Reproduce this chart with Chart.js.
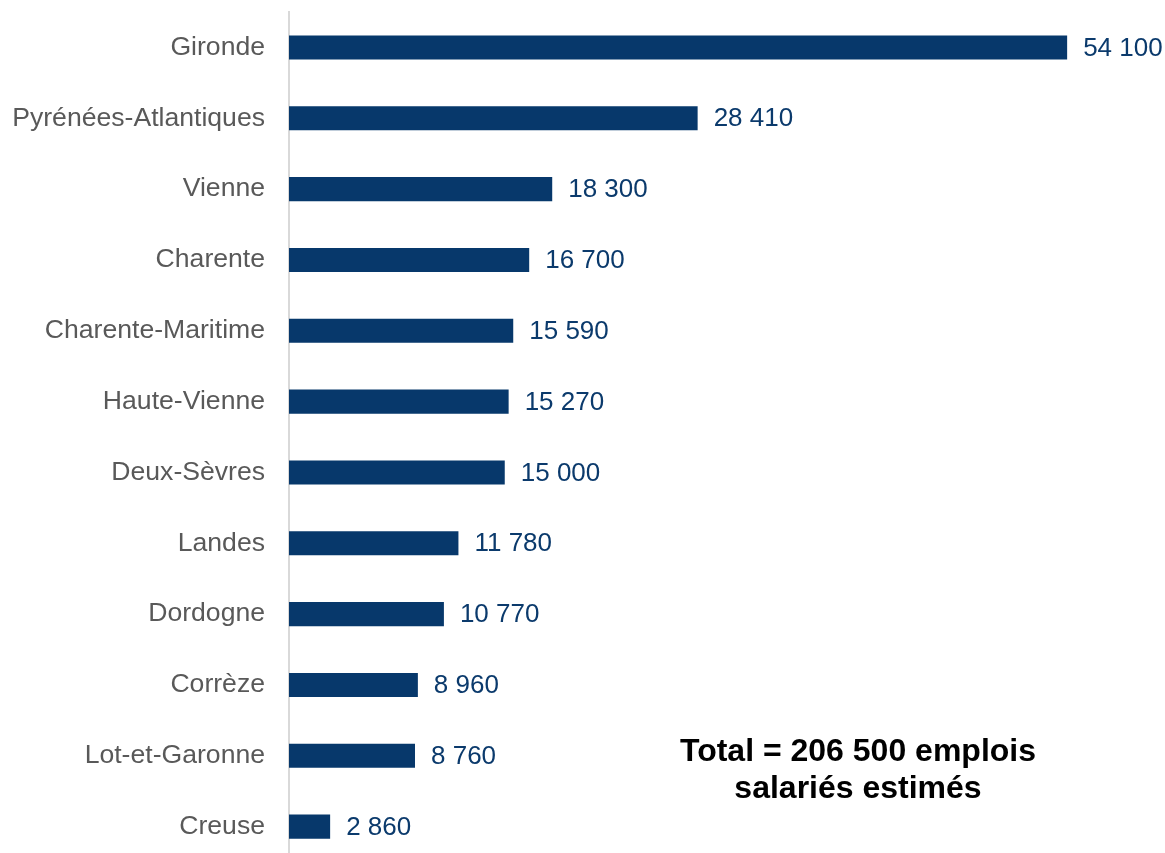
<!DOCTYPE html>
<html>
<head>
<meta charset="utf-8">
<script src="https://cdn.jsdelivr.net/npm/chart.js@4"></script>
<style>
  html, body { margin: 0; padding: 0; background: #fff; overflow: hidden; }
  #wrap { width: 1165px; height: 862px; position: relative; }
</style>
</head>
<body>
<div id="wrap"><canvas id="chart"></canvas></div>
<script>
const departements = ['Gironde', 'Pyrénées-Atlantiques', 'Vienne', 'Charente', 'Charente-Maritime',
  'Haute-Vienne', 'Deux-Sèvres', 'Landes', 'Dordogne', 'Corrèze', 'Lot-et-Garonne', 'Creuse'];
const emplois = [54100, 28410, 18300, 16700, 15590, 15270, 15000, 11780, 10770, 8960, 8760, 2860];
const totalLines = ['Total = 206 500 emplois', 'salariés estimés'];

const fmt = v => String(v).replace(/\B(?=(\d{3})+(?!\d))/g, ' ');

// value labels at the end of each bar
const valueLabels = {
  id: 'valueLabels',
  afterDatasetsDraw(chart) {
    const ctx = chart.ctx;
    const meta = chart.getDatasetMeta(0);
    ctx.save();
    ctx.font = '26px "Liberation Sans", Arial, sans-serif';
    ctx.fillStyle = '#0b3a6c';
    ctx.textAlign = 'left';
    ctx.textBaseline = 'middle';
    meta.data.forEach((bar, i) => {
      ctx.fillText(fmt(emplois[i]), bar.x + 16, bar.y + 1);
    });
    ctx.restore();
  }
};

const totalNote = {
  id: 'totalNote',
  afterDraw(chart) {
    const ctx = chart.ctx;
    ctx.save();
    ctx.font = 'bold 32px "Liberation Sans", Arial, sans-serif';
    ctx.fillStyle = '#000';
    ctx.textAlign = 'center';
    ctx.textBaseline = 'middle';
    ctx.fillText(totalLines[0], 858, 752);
    ctx.fillText(totalLines[1], 858, 789);
    ctx.restore();
  }
};

new Chart(document.getElementById('chart'), {
  type: 'bar',
  data: {
    labels: departements,
    datasets: [{
      data: emplois,
      backgroundColor: '#07386b',
      barPercentage: 0.68,
      categoryPercentage: 0.5
    }]
  },
  options: {
    indexAxis: 'y',
    responsive: true,
    maintainAspectRatio: false,
    animation: false,
    layout: { padding: { top: 12, right: 13, left: 0, bottom: 0 } },
    plugins: { legend: { display: false }, tooltip: { enabled: false } },
    scales: {
      x: { display: false, min: 0, max: 60000 },
      y: {
        afterFit: s => { s.width = 289; s.paddingTop = 0; s.paddingBottom = 0; },
        grid: { display: false, drawTicks: false },
        border: { display: true, color: '#d9d9d9', width: 2 },
        ticks: {
          padding: 24,
          color: '#595959',
          font: { family: '"Liberation Sans", Arial, sans-serif', size: 26.6 }
        }
      }
    }
  },
  plugins: [valueLabels, totalNote]
});
</script>
</body>
</html>
